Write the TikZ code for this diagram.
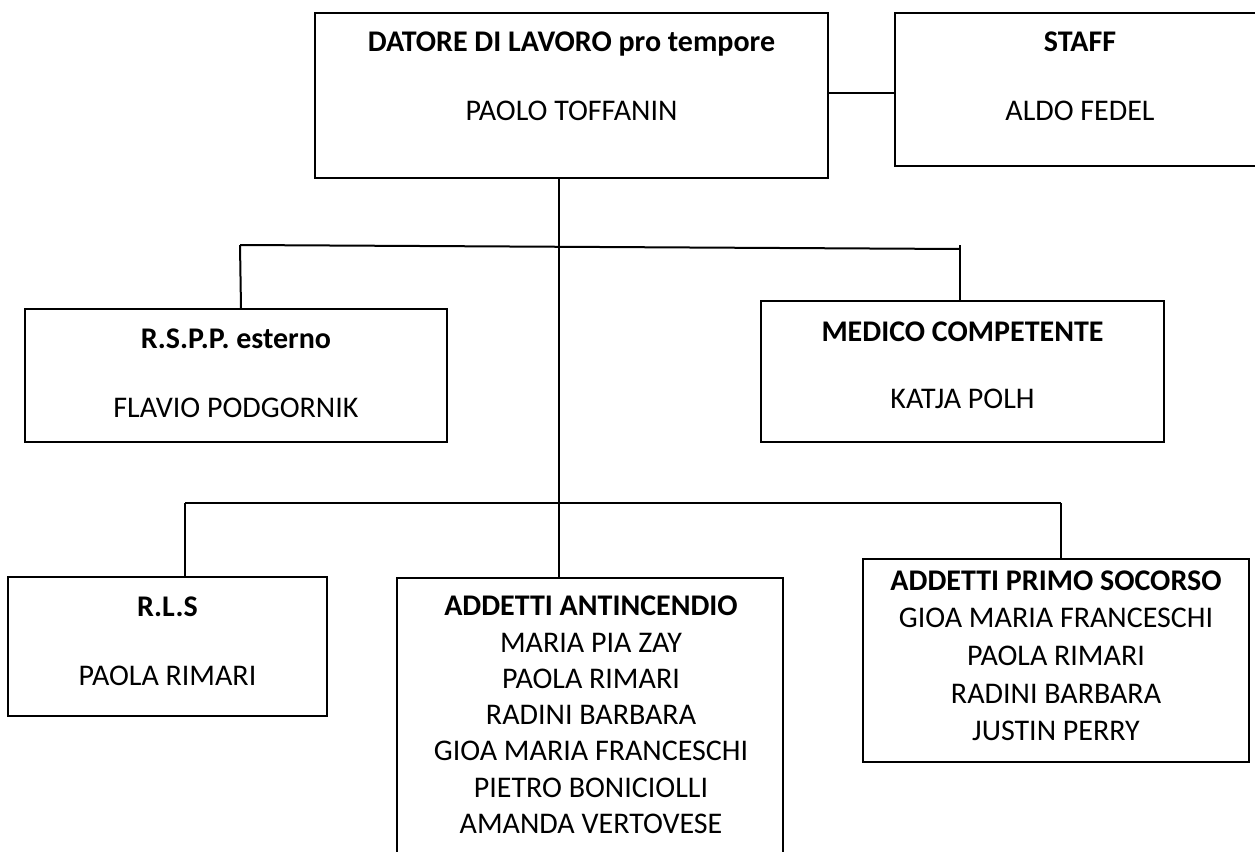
\documentclass[tikz,border=0pt]{standalone}
\usepackage{fontspec}
\setmainfont{Carlito}
\begin{document}
\begin{tikzpicture}[x=1pt,y=-1pt,
  box/.style={draw, line width=2pt, rectangle, inner sep=0pt},
  conn/.style={draw, line width=2pt},
  ttl/.style={anchor=base, inner sep=0pt, font=\fontsize{30}{36}\selectfont\bfseries},
  nm/.style={anchor=base, inner sep=0pt, font=\fontsize{30}{36}\selectfont}]
\clip (0,0) rectangle (1255,851);
\fill[white] (0,0) rectangle (1255,851);
% boxes
\node[box, minimum width=513pt, minimum height=165pt] (datore) at (571.5,95.5) {};
\node[box, minimum width=370pt, minimum height=153pt] (staff) at (1080,89.5) {};
\node[box, minimum width=422pt, minimum height=133pt] (rspp) at (236,375.5) {};
\node[box, minimum width=403pt, minimum height=141pt] (medico) at (962.5,371.5) {};
\node[box, minimum width=319pt, minimum height=139pt] (rls) at (167.5,646.5) {};
\node[box, minimum width=386pt, minimum height=292pt] (anti) at (590,724) {};
\node[box, minimum width=386pt, minimum height=203pt] (primo) at (1056,660.5) {};
% texts
\node[ttl] (t1) at (571.5,52) {DATORE DI LAVORO pro tempore};
\node[nm] (n1) at (571.5,120) {PAOLO TOFFANIN};
\node[ttl] (t2) at (1080,52) {STAFF};
\node[nm] (n2) at (1080,120) {ALDO FEDEL};
\node[ttl] (t3) at (236,348) {R.S.P.P. esterno};
\node[nm] (n3) at (236,417) {FLAVIO PODGORNIK};
\node[ttl] (t4) at (962.5,341) {MEDICO COMPETENTE};
\node[nm] (n4) at (962.5,408) {KATJA POLH};
\node[ttl] (t5) at (167.5,616) {R.L.S};
\node[nm] (n5) at (167.5,685) {PAOLA RIMARI};
\node[ttl] (t6) at (591,615) {ADDETTI ANTINCENDIO};
\node[nm] (a1) at (591,652) {MARIA PIA ZAY};
\node[nm] (a2) at (591,688) {PAOLA RIMARI};
\node[nm] (a3) at (591,724) {RADINI BARBARA};
\node[nm] (a4) at (591,760) {GIOA MARIA FRANCESCHI};
\node[nm] (a5) at (591,797) {PIETRO BONICIOLLI};
\node[nm] (a6) at (591,833) {AMANDA VERTOVESE};
\node[ttl] (t7) at (1056,590) {ADDETTI PRIMO SOCORSO};
\node[nm] (p1) at (1056,627) {GIOA MARIA FRANCESCHI};
\node[nm] (p2) at (1056,665) {PAOLA RIMARI};
\node[nm] (p3) at (1056,703) {RADINI BARBARA};
\node[nm] (p4) at (1056,740) {JUSTIN PERRY};
% connector coordinates
\coordinate (trunkTop) at (559,178);
\coordinate (trunkBot) at (559,578);
\coordinate (h1L) at (240,245);
\coordinate (h1R) at (960,249);
\coordinate (h1Rtop) at (960,245);
\coordinate (h2L) at (185,503);
\coordinate (h2R) at (1061,503);
% connectors
\draw[conn] (datore.east |- 0,93) -- (staff.west |- 0,93);
\draw[conn] (trunkTop) -- (trunkBot);
\draw[conn] (h1L) -- (h1R);
\draw[conn] (h1L) -- (rspp.north -| 241,0);
\draw[conn] (h1Rtop) -- (medico.north -| 960,0);
\draw[conn] (h2L) -- (h2R);
\draw[conn] (h2L) -- (rls.north -| h2L);
\draw[conn] (h2R) -- (primo.north -| h2R);
\end{tikzpicture}
\end{document}
